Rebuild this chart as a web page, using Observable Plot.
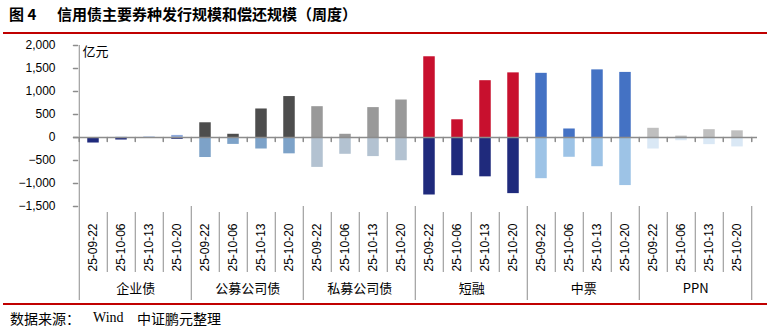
<!DOCTYPE html>
<html>
<head>
<meta charset="utf-8">
<script src="https://cdn.jsdelivr.net/npm/d3@7"></script>
<script src="https://cdn.jsdelivr.net/npm/@observablehq/plot@0.6"></script>
<style>
  html, body { margin: 0; padding: 0; background: #fff; }
  body { width: 771px; height: 330px; position: relative; overflow: hidden; font-family: "Noto Sans CJK SC", sans-serif; color: #000; }
  .t { position: absolute; white-space: nowrap; }
  #t1 { left: 9px; top: 4px; font-size: 15px; font-weight: bold; line-height: 20px; }
  #t2 { left: 57px; top: 4px; font-size: 15px; font-weight: bold; line-height: 20px; }
  #topline { position: absolute; left: 3px; top: 32px; width: 764px; height: 2px; background: #C00000; }
  #chart { position: absolute; left: 0; top: 34px; }
  #botline { position: absolute; left: 3px; top: 303px; width: 764px; height: 2px; background: #C00000; }
  #c1 { left: 10px; top: 308px; font-size: 14px; line-height: 20px; }
  #c2 { left: 93px; top: 308px; font-size: 14px; line-height: 20px; font-family: "Liberation Serif", serif; }
  #c3 { left: 137px; top: 308px; font-size: 14px; line-height: 20px; }
</style>
</head>
<body>
<div class="t" id="t1">图 4</div>
<div class="t" id="t2">信用债主要券种发行规模和偿还规模（周度）</div>
<div id="topline"></div>
<div id="chart"></div>
<div id="botline"></div>
<div class="t" id="c1">数据来源：</div>
<div class="t" id="c2">Wind</div>
<div class="t" id="c3">中证鹏元整理</div>
<script>
// ---- data ----
const groups = ["企业债", "公募公司债", "私募公司债", "短融", "中票", "PPN"];
const dates = ["25-09-22", "25-10-06", "25-10-13", "25-10-20"];
// 发行规模 (亿元), per group, per week
const issuance = [
  [0, 5, 10, 45],
  [320, 70, 620, 890],
  [670, 70, 650, 815],
  [1755, 385, 1235, 1405],
  [1395, 185, 1470, 1415],
  [200, 30, 170, 145]
];
// 偿还规模 (亿元, negative), per group, per week
const repayment = [
  [-120, -55, -20, -40],
  [-435, -150, -250, -355],
  [-650, -365, -415, -505],
  [-1250, -830, -855, -1220],
  [-895, -430, -635, -1045],
  [-250, -70, -155, -205]
];
const issueColors = ["#8FAADC", "#4D4D4D", "#999999", "#C8102E", "#4472C4", "#BFBFBF"];
const repayColors = ["#1F2A7C", "#7DA2C8", "#B3C2D1", "#1F2A7C", "#9DC3E6", "#DAE8F5"];
const yTicks = [-1500, -1000, -500, 0, 500, 1000, 1500, 2000];
const unitLabel = "亿元";

// ---- layout ----
const W = 771, H = 269, ML = 73, MR = 14, MT = 11, MB = 97;
const plotH = H - MT - MB;
const keys = groups.flatMap(g => dates.map(d => g + "|" + d));
const bw = (W - ML - MR) / keys.length;
const barW = 12;
const inset = (bw - barW) / 2;
const rows = groups.flatMap((g, gi) => dates.flatMap((d, di) => [
  {key: g + "|" + d, value: issuance[gi][di], color: issueColors[gi]},
  {key: g + "|" + d, value: repayment[gi][di], color: repayColors[gi]}
]));
const groupStarts = groups.slice(1).map(g => g + "|" + dates[0]);
const groupMids = groups.map(g => g + "|" + dates[1]);
const axisColor = "#8C8C8C";
const lineShape = {draw(context, l) { context.moveTo(0, 0); context.lineTo(0, -l); }};
const fmt = d3.format(",");

const chart = Plot.plot({
  width: W, height: H,
  marginLeft: ML, marginRight: MR, marginTop: MT, marginBottom: MB,
  style: {fontFamily: "'Liberation Sans', Arial, sans-serif", color: "#000", background: "#fff", overflow: "visible"},
  x: {type: "band", domain: keys, padding: 0, axis: null},
  y: {domain: [-1500, 2000], axis: null},
  marks: [
    Plot.barY(rows, {x: "key", y1: 0, y2: "value", fill: "color", insetLeft: inset, insetRight: inset}),
    Plot.ruleY([0], {stroke: axisColor, strokeWidth: 1.5}),
    // zero-line ticks at category boundaries
    Plot.vector(keys, {x: d => d, y: 0, dx: -bw / 2, length: 4, rotate: 180, anchor: "start", shape: lineShape, stroke: axisColor}),
    Plot.vector([keys[keys.length - 1]], {x: d => d, y: 0, dx: bw / 2, length: 4, rotate: 180, anchor: "start", shape: lineShape, stroke: axisColor}),
    // y axis line, extended down through the category area
    Plot.ruleX([keys[0]], {x: d => d, dx: -bw / 2, insetBottom: -94, stroke: axisColor}),
    Plot.vector(yTicks, {y: d => d, frameAnchor: "left", length: 4, rotate: 90, anchor: "start", shape: lineShape, stroke: axisColor}),
    Plot.axisY(yTicks, {tickSize: 0, tickPadding: 18, tickFormat: fmt, fontSize: 12, label: null}),
    // category separators
    Plot.ruleX(keys.filter((k, i) => i % dates.length !== 0), {x: d => d, dx: -bw / 2, insetTop: plotH + 6, insetBottom: -66, stroke: axisColor}),
    // group separators
    Plot.ruleX(groupStarts, {x: d => d, dx: -bw / 2, insetTop: plotH, insetBottom: -94, stroke: axisColor}),
    Plot.ruleX([keys[keys.length - 1]], {x: d => d, dx: bw / 2, insetTop: plotH, insetBottom: -94, stroke: axisColor}),
    // date labels
    Plot.text(keys, {x: d => d, text: d => d.split("|")[1], rotate: -90, frameAnchor: "bottom", dy: 65, textAnchor: "start", lineAnchor: "middle", fontSize: 12, fill: "#000"}),
    // group labels
    Plot.text(groups, {x: (d, i) => groupMids[i], text: d => d, dx: bw / 2, frameAnchor: "bottom", dy: 82, lineAnchor: "middle", fontSize: 13, fontFamily: "'Noto Sans CJK SC', sans-serif", fill: "#000"}),
    // unit label
    Plot.text([unitLabel], {frameAnchor: "top-left", text: d => d, dx: 9, dy: 1, textAnchor: "start", lineAnchor: "top", fontSize: 13, fontFamily: "'Noto Sans CJK SC', sans-serif", fill: "#000"})
  ]
});
document.getElementById("chart").appendChild(chart);
</script>
</body>
</html>
